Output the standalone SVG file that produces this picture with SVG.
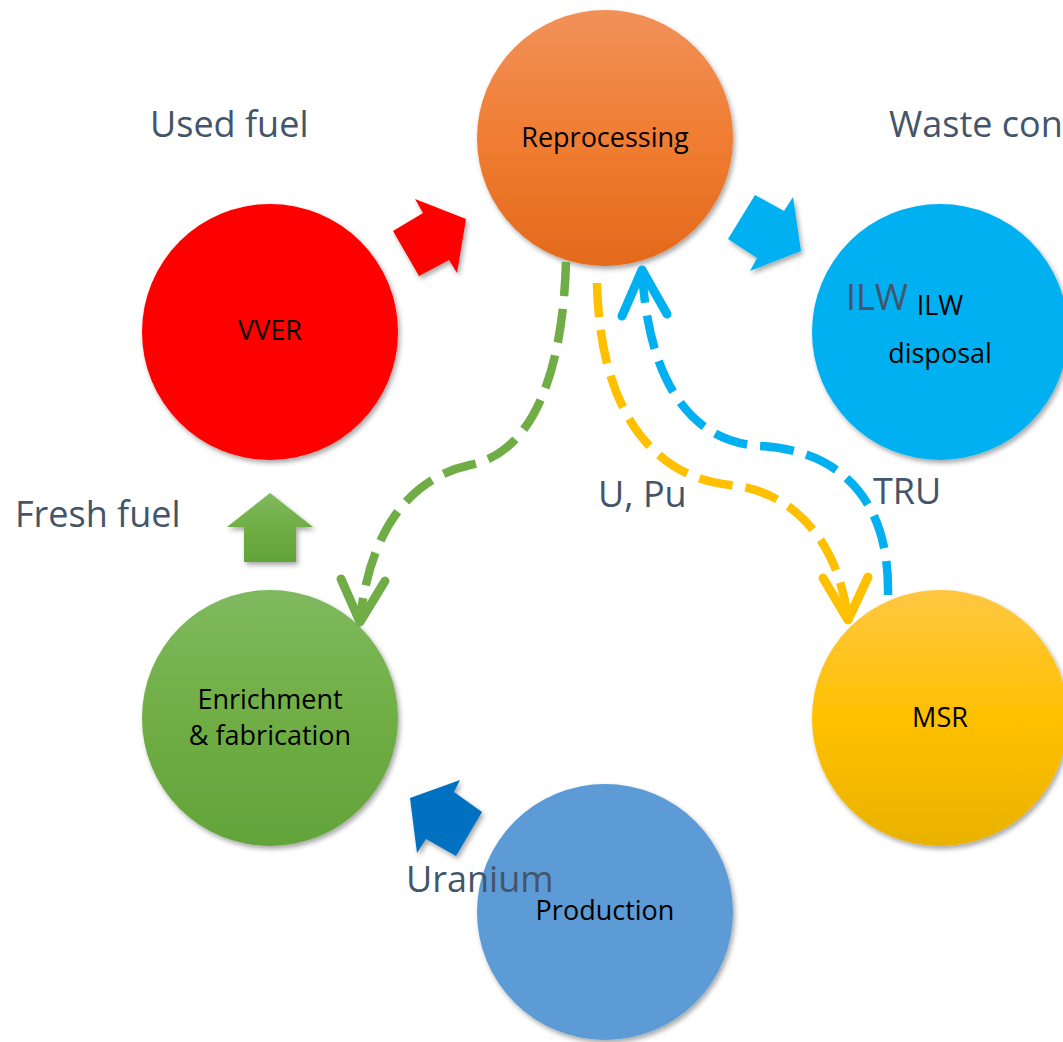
<svg xmlns="http://www.w3.org/2000/svg" width="1063" height="1042" viewBox="0 0 1063 1042">
<defs>
<filter id="sh" x="-20%" y="-20%" width="140%" height="140%">
<feDropShadow dx="2" dy="3" stdDeviation="2.5" flood-color="#000" flood-opacity="0.35"/>
</filter>
<linearGradient id="gOrange" x1="0" y1="0" x2="0" y2="1">
<stop offset="0" stop-color="#F19159"/>
<stop offset="0.5" stop-color="#F07D32"/>
<stop offset="1" stop-color="#E3691B"/>
</linearGradient>
<linearGradient id="gGreen" x1="0" y1="0" x2="0" y2="1">
<stop offset="0" stop-color="#7FB95E"/>
<stop offset="0.5" stop-color="#70AE45"/>
<stop offset="1" stop-color="#62A33A"/>
</linearGradient>
<linearGradient id="gYellow" x1="0" y1="0" x2="0" y2="1">
<stop offset="0" stop-color="#FFC742"/>
<stop offset="0.5" stop-color="#FFC000"/>
<stop offset="1" stop-color="#E9B200"/>
</linearGradient>
</defs>
<style>
.node{filter:url(#sh)}
.nt{font-family:"Open Sans","Noto Sans","Liberation Sans",sans-serif;font-size:27px;fill:#000;text-anchor:middle}
.lbl{font-family:"Open Sans","Noto Sans","Liberation Sans",sans-serif;font-size:36px;fill:#44546A}
.blk{filter:url(#sh)}
.dash{fill:none;stroke-width:8.5;stroke-dasharray:34 13}
.head{fill:none;stroke-width:9;stroke-linecap:round;stroke-linejoin:round}
</style>
<rect width="1063" height="1042" fill="#fff"/>

<g id="node-reprocessing">
<circle class="node" cx="605" cy="138" r="128" fill="url(#gOrange)"/>
<text class="nt" x="605" y="147">Reprocessing</text>
</g>
<g id="node-vver">
<circle class="node" cx="270" cy="332" r="128" fill="#FF0000"/>
<text class="nt" x="270" y="340">VVER</text>
</g>
<g id="node-ilw">
<circle class="node" cx="940" cy="332" r="128" fill="#00B0F0"/>
<text class="lbl" x="846" y="310">ILW</text>
<text class="nt" x="940" y="315">ILW</text>
<text class="nt" x="940" y="363">disposal</text>
</g>
<g id="node-msr">
<circle class="node" cx="940" cy="718" r="128" fill="url(#gYellow)"/>
<text class="nt" x="940" y="727">MSR</text>
</g>
<g id="node-enrichment">
<circle class="node" cx="270" cy="718" r="128" fill="url(#gGreen)"/>
<text class="nt" x="270" y="709">Enrichment</text>
<text class="nt" x="270" y="745">&amp; fabrication</text>
</g>
<g id="node-production">
<circle class="node" cx="605" cy="912" r="128" fill="#5B9BD5"/>
<text class="nt" x="605" y="920">Production</text>
</g>

<g id="connectors">
<polygon class="blk" fill="#FF0000" points="393,231 423,213 415,199 466,219 457,273 449,260 419,276"/>
<polygon class="blk" fill="#00B0F0" points="755,195 784,211 793,197 801,251 750,271 757,258 728,239"/>
<polygon class="blk" fill="url(#gGreen)" points="270,493 313,527 296,527 296,562 244,562 244,527 227,527"/>
<polygon class="blk" fill="#0070C0" points="410,798 460,780 454,792 482,812 456,856 426,839 417,853"/>

<path class="dash" stroke="#70AD47" d="M566,262 C562,395 522,455 470,465 C410,478 370,530 360,620"/>
<polyline class="head" stroke="#70AD47" points="341,579 360,622 385,581"/>

<path class="dash" stroke="#FFC000" d="M597,283 C600,420 660,478 730,485 C800,492 840,550 848,620"/>
<polyline class="head" stroke="#FFC000" points="823,578 848,620 868,577"/>

<path class="dash" stroke="#00B0F0" d="M888,595 C890,500 840,450 760,446 C690,442 648,380 642,270"/>
<polyline class="head" stroke="#00B0F0" points="622,316 642,270 667,314"/>
</g>

<g id="labels">
<text class="lbl" x="150" y="137">Used fuel</text>
<text class="lbl" x="889" y="137">Waste con</text>
<text class="lbl" x="15" y="527">Fresh fuel</text>
<text class="lbl" x="598" y="507">U, Pu</text>
<text class="lbl" x="873" y="504">TRU</text>
<text class="lbl" x="406" y="892">Uranium</text>
</g>
</svg>
